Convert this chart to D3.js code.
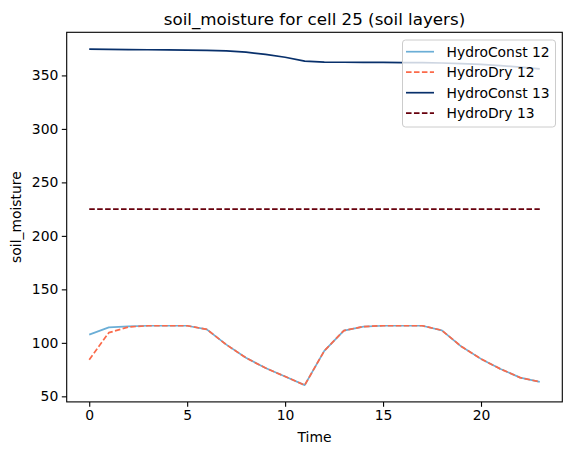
<!DOCTYPE html>
<html>
<head>
<meta charset="utf-8">
<script src="https://cdn.jsdelivr.net/npm/d3@7"></script>
<style>
  body { margin: 0; background: #fff; }
  svg { font-family: "DejaVu Sans", sans-serif; }
</style>
</head>
<body>
<svg id="chart" width="571" height="455"></svg>
<script>
var time = d3.range(24);
var hydroConst12 = [107.7, 114.5, 115.4, 116, 116, 116, 112.6, 98.3, 86, 76.5, 68.5, 60.5,
                    92.5, 111.5, 115.2, 116, 116, 116, 111.7, 96.5, 85, 75.5, 67.5, 63.5];
var hydroDry12 = [84.3, 109.5, 114.8, 116, 116, 116, 112.6, 98.3, 86, 76.5, 68.5, 60.5,
                  92.5, 111.5, 115.2, 116, 116, 116, 111.7, 96.5, 85, 75.5, 67.5, 63.5];
var hydroConst13 = [374.6, 374.4, 374.2, 374, 373.8, 373.6, 373.4, 372.9, 371.7, 369.6, 367, 363.3,
                    362.5, 362.3, 362.2, 362.1, 362, 361.9, 361.6, 361.1, 360.3, 359.2, 357.8, 356.2];
var hydroDry13 = [225, 225, 225, 225, 225, 225, 225, 225, 225, 225, 225, 225,
                  225, 225, 225, 225, 225, 225, 225, 225, 225, 225, 225, 225];

var seriesNames = ["HydroConst 12", "HydroDry 12", "HydroConst 13", "HydroDry 13"];
var seriesValues = [hydroConst12, hydroDry12, hydroConst13, hydroDry13];
var colors = ["#6baed6", "#fb6a4a", "#08306b", "#67000d"];
var dashed = [false, true, false, true];
var xTicks = [0, 5, 10, 15, 20];
var yTicks = [50, 100, 150, 200, 250, 300, 350];

// axes box, pixels
var boxL = 66.7, boxR = 562.3, boxT = 32.3, boxB = 401.9;
var lineW = 1.7;

var svg = d3.select("#chart");

var xMin = 0, xMax = 23, xPad = (xMax - xMin) * 0.05;
var x = d3.scaleLinear().domain([xMin - xPad, xMax + xPad]).range([boxL, boxR]);

var all = d3.merge(seriesValues);
var yMin = d3.min(all), yMax = d3.max(all), yPad = (yMax - yMin) * 0.05;
var y = d3.scaleLinear().domain([yMin - yPad, yMax + yPad]).range([boxB, boxT]);

var line = d3.line()
  .x(function(d, i) { return x(time[i]); })
  .y(function(d) { return y(d); });

svg.append("g").selectAll("path")
  .data(seriesValues)
  .enter().append("path")
    .attr("d", line)
    .attr("fill", "none")
    .attr("stroke", function(d, i) { return colors[i]; })
    .attr("stroke-width", lineW)
    .attr("stroke-linejoin", "round")
    .attr("stroke-dasharray", function(d, i) { return dashed[i] ? "5.55,2.4" : null; });

// axes
var xAxis = svg.append("g")
  .attr("transform", "translate(0," + boxB + ")")
  .call(d3.axisBottom(x).tickValues(xTicks).tickSize(4.9).tickPadding(3.5).tickSizeOuter(0));
var yAxis = svg.append("g")
  .attr("transform", "translate(" + boxL + ",0)")
  .call(d3.axisLeft(y).tickValues(yTicks).tickSize(4.9).tickPadding(3.5).tickSizeOuter(0));

[xAxis, yAxis].forEach(function(a) {
  a.select(".domain").remove();
  a.selectAll(".tick line").attr("stroke", "#000").attr("stroke-width", 1.1);
  a.selectAll(".tick text")
    .attr("fill", "#000")
    .style("font-family", "DejaVu Sans")
    .style("font-size", "13.9px");
});

svg.append("rect")
  .attr("x", boxL).attr("y", boxT)
  .attr("width", boxR - boxL).attr("height", boxB - boxT)
  .attr("fill", "none").attr("stroke", "#000").attr("stroke-width", 1.1);

svg.append("text")
  .attr("x", (boxL + boxR) / 2).attr("y", 442)
  .attr("text-anchor", "middle")
  .style("font-size", "13.9px")
  .text("Time");

svg.append("text")
  .attr("transform", "translate(21," + (boxT + boxB) / 2 + ") rotate(-90)")
  .attr("text-anchor", "middle")
  .style("font-size", "13.9px")
  .text("soil_moisture");

svg.append("text")
  .attr("x", (boxL + boxR) / 2).attr("y", 25)
  .attr("text-anchor", "middle")
  .style("font-size", "16.7px")
  .text("soil_moisture for cell 25 (soil layers)");

// legend
var legend = svg.append("g");
legend.append("rect")
  .attr("x", 402.5).attr("y", 40)
  .attr("width", 153).attr("height", 87)
  .attr("rx", 3)
  .attr("fill", "#fff").attr("fill-opacity", 0.8)
  .attr("stroke", "#cccccc").attr("stroke-width", 1);

var item = legend.selectAll("g.item")
  .data(seriesNames)
  .enter().append("g")
    .attr("transform", function(d, i) { return "translate(0," + (51.7 + i * 20.5) + ")"; });

item.append("line")
  .attr("x1", 406).attr("x2", 434)
  .attr("stroke", function(d, i) { return colors[i]; })
  .attr("stroke-width", lineW)
  .attr("stroke-dasharray", function(d, i) { return dashed[i] ? "5.55,2.4" : null; });

item.append("text")
  .attr("x", 446.5).attr("dy", "0.35em")
  .style("font-size", "13.9px")
  .attr("fill", "#000")
  .text(function(d) { return d; });
</script>
</body>
</html>
